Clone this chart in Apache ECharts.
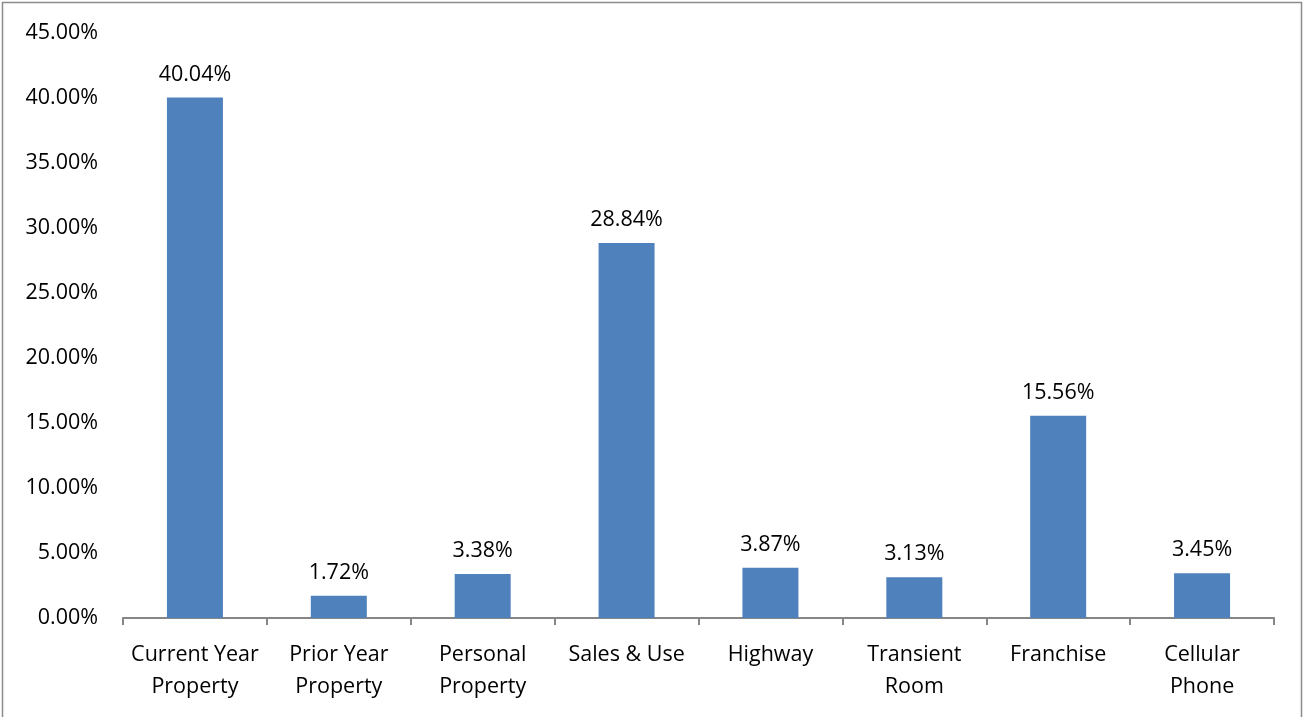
<!DOCTYPE html>
<html>
<head>
<meta charset="utf-8">
<script src="https://cdn.jsdelivr.net/npm/echarts@6/dist/echarts.min.js"></script>
<style>
html,body{margin:0;padding:0;background:#fff;}
#chart{width:1304px;height:717px;}
</style>
</head>
<body>
<div id="chart"></div>
<script>
const categories = ["Current Year\nProperty","Prior Year\nProperty","Personal\nProperty","Sales & Use","Highway","Transient\nRoom","Franchise","Cellular\nPhone"];
const values = [40.04, 1.72, 3.38, 28.84, 3.87, 3.13, 15.56, 3.45];
const yTicks = {min: 0, max: 45, interval: 5};

const chart = echarts.init(document.getElementById('chart'));
const font = '"Open Sans", sans-serif';
chart.setOption({
  animation: false,
  graphic: [{
    type: 'rect', shape: {x: 2.5, y: 2.5, width: 1299, height: 730},
    style: {fill: 'none', stroke: '#8c8c8c', lineWidth: 1.5}, silent: true
  }],
  grid: {left: 123, right: 30, top: 33, bottom: 99},
  xAxis: {
    type: 'category', data: categories,
    axisLine: {lineStyle: {color: '#868686', width: 2}},
    axisTick: {show: true, length: 7, lineStyle: {color: '#868686', width: 2}},
    axisLabel: {color: '#000', fontFamily: font, fontSize: 21.5, lineHeight: 32, margin: 21, interval: 0}
  },
  yAxis: {
    type: 'value', min: yTicks.min, max: yTicks.max, interval: yTicks.interval,
    axisLine: {show: false}, axisTick: {show: false}, splitLine: {show: false},
    axisLabel: {color: '#000', fontFamily: font, fontSize: 21.5, margin: 25,
      formatter: v => v.toFixed(2) + '%'}
  },
  series: [{
    type: 'bar', data: values, barWidth: 56,
    itemStyle: {color: '#4F81BD'},
    label: {show: true, position: 'top', distance: 12, color: '#000', fontFamily: font, fontSize: 21.5,
      formatter: p => p.value.toFixed(2) + '%'}
  }]
});
</script>
</body>
</html>
